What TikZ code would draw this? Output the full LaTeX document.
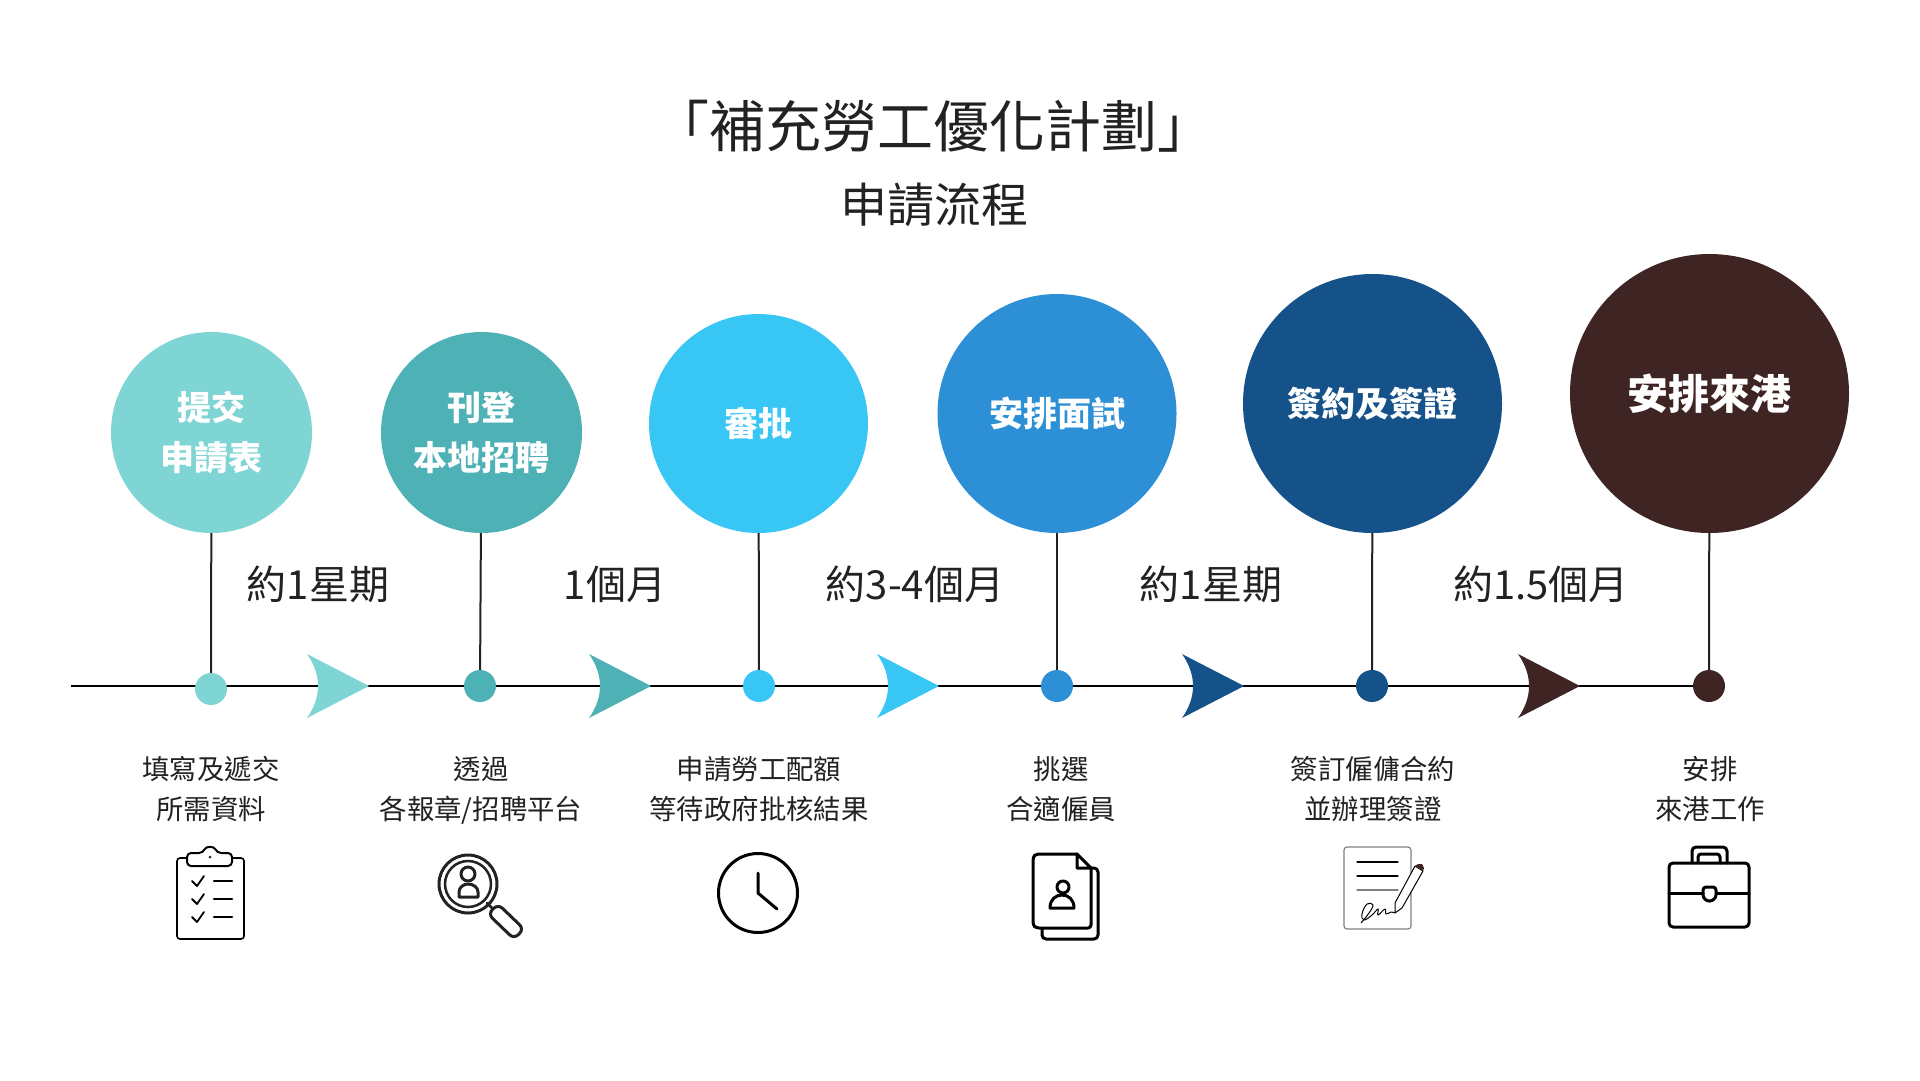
\documentclass[tikz,border=0pt]{standalone}
\usepackage{fontspec}
\setmainfont{Noto Sans CJK TC}
\usepackage{xcolor}

\definecolor{toneA}{HTML}{7FD5D4}
\definecolor{toneB}{HTML}{4DB1B5}
\definecolor{toneC}{HTML}{38C6F4}
\definecolor{toneD}{HTML}{2D8FD5}
\definecolor{toneE}{HTML}{155289}
\definecolor{toneF}{HTML}{3E2524}
\definecolor{inkdark}{HTML}{222222}

\begin{document}
\begin{tikzpicture}[
  x=1pt,y=-1pt,
  stage/.style={circle,inner sep=0pt,text=white,align=center,font=\fontsize{34}{50}\selectfont\bfseries},
  marker/.style={circle,inner sep=0pt,minimum size=32pt},
  stem/.style={line width=2pt,draw=inkdark},
  timing/.style={text=inkdark,font=\fontsize{40}{44}\selectfont},
  detail/.style={text=inkdark,align=center,font=\fontsize{27.4}{40}\selectfont},
  icon/.style={line width=2.5pt,draw=black,line join=round,line cap=round},
  headtip/.pic={\fill[pic actions] (-62,-32) .. controls (-47.3,-11) and (-47.3,11) .. (-62,32) -- (0,0) -- cycle;}
]
  \useasboundingbox (0,0) rectangle (1920,1080);

  % title
  \node[text=inkdark,font=\fontsize{56}{60}\selectfont] (title) at (933,126) {「補充勞工優化計劃」};
  \node[text=inkdark,font=\fontsize{47}{52}\selectfont] (subtitle) at (934,205) {申請流程};

  % timeline
  \coordinate (tstart) at (71,686);
  \coordinate (tend) at (1709,686);
  \draw[line width=2pt,black] (tstart) -- (tend);
  \pic[fill=toneA] at (369,686) {headtip};
  \pic[fill=toneB] at (651,686) {headtip};
  \pic[fill=toneC] at (939,686) {headtip};
  \pic[fill=toneE] at (1244,686) {headtip};
  \pic[fill=toneF] at (1580,686) {headtip};

  % stages
  \node[stage,fill=toneA,minimum size=201pt] (s1) at (211.5,432.5) {提交\\申請表};
  \node[stage,fill=toneB,minimum size=201pt] (s2) at (481.5,432.5) {刊登\\本地招聘};
  \node[stage,fill=toneC,minimum size=219pt] (s3) at (758.5,423.5) {審批};
  \node[stage,fill=toneD,minimum size=239pt] (s4) at (1057,413.5) {安排面試};
  \node[stage,fill=toneE,minimum size=259pt] (s5) at (1372.5,403.5) {簽約及簽證};
  \node[stage,fill=toneF,minimum size=279pt,font=\fontsize{41}{50}\selectfont\bfseries] (s6) at (1709.5,393.5) {安排來港};

  \node[marker,fill=toneA] (m1) at (211,689) {};
  \node[marker,fill=toneB] (m2) at (480,686) {};
  \node[marker,fill=toneC] (m3) at (759,686) {};
  \node[marker,fill=toneD] (m4) at (1057,686) {};
  \node[marker,fill=toneE] (m5) at (1372,686) {};
  \node[marker,fill=toneF] (m6) at (1709,686) {};

  \draw[stem] (s1) -- (m1);
  \draw[stem] (s2) -- (m2);
  \draw[stem] (s3) -- (m3);
  \draw[stem] (s4) -- (m4);
  \draw[stem] (s5) -- (m5);
  \draw[stem] (s6) -- (m6);

  % durations
  \node[timing] (t1) at (318,584) {約1星期};
  \node[timing] (t2) at (615,584) {1個月};
  \node[timing] (t3) at (915,584) {約3-4個月};
  \node[timing] (t4) at (1211,584) {約1星期};
  \node[timing] (t5) at (1541,584) {約1.5個月};

  % details
  \node[detail] (d1) at (211,789) {填寫及遞交\\所需資料};
  \node[detail] (d2) at (481,790) {透過\\各報章/招聘平台};
  \node[detail] (d3) at (759,789) {申請勞工配額\\等待政府批核結果};
  \node[detail] (d4) at (1061,789) {挑選\\合適僱員};
  \node[detail] (d5) at (1373,789) {簽訂僱傭合約\\並辦理簽證};
  \node[detail] (d6) at (1710,789) {安排\\來港工作};

  % clipboard
  \draw[icon,line width=1.6pt,rounded corners=3pt] (177,858) rectangle (244,939);
  \draw[icon,fill=white,line width=2pt,rounded corners=4pt] (187,853) -- (203,853) .. controls (206,846) and (214,846) .. (217,853) -- (232,853) -- (232,866) -- (187,866) -- cycle;
  \fill[inkdark] (210,857) circle (1.5);
  \draw[icon,line width=1.8pt] (192,881) -- (197,886) -- (204,876);
  \draw[icon,line width=1.8pt] (192,899) -- (197,904) -- (204,894);
  \draw[icon,line width=1.8pt] (192,917) -- (197,922) -- (204,912);
  \draw[icon,line width=2.5pt] (214,881) -- (232,881);
  \draw[icon,line width=2.5pt] (214,899) -- (232,899);
  \draw[icon,line width=2.5pt] (214,917) -- (232,917);

  % magnifier
  \draw[icon,draw=inkdark,line width=3pt] (468,884) circle (29);
  \draw[icon,draw=inkdark,line width=2.5pt] (468,884) circle (23);
  \draw[icon,draw=inkdark,line width=3pt] (468,874) circle (7);
  \draw[icon,draw=inkdark,line width=3pt] (459,897) -- (459,892) .. controls (459,887) and (464,884) .. (468,884) .. controls (473,884) and (478,887) .. (478,892) -- (478,897) -- cycle;
  \draw[icon,draw=inkdark] (487,903) -- (492,908);
  \draw[icon,draw=inkdark,line width=3pt,rounded corners=6pt] (498,904) -- (524,929) -- (514,939) -- (488,914) -- cycle;

  % clock
  \draw[icon,line width=3pt] (758,893) circle (39.5);
  \draw[icon,line width=3pt] (758,873) -- (758,893) -- (777,909);

  % documents
  \draw[icon,line width=3pt,rounded corners=4pt] (1091,868) -- (1098,868) -- (1098,939) -- (1042,939) -- (1042,928);
  \draw[icon,line width=3pt,fill=white,rounded corners=3pt] (1077,854) -- (1036,854) -- (1033,857) -- (1033,925) -- (1036,928) -- (1091,928) -- (1091,868);
  \draw[icon,line width=3pt] (1077,854) -- (1091,868) -- (1077,868) -- cycle;
  \draw[icon,line width=3pt] (1063,887) circle (6);
  \draw[icon,line width=3pt] (1050,908) .. controls (1050,899) and (1056,895) .. (1062,895) .. controls (1068,895) and (1074,899) .. (1074,908) -- cycle;

  % contract
  \draw[icon,line width=1.2pt,draw=gray,rounded corners=3pt] (1344,847) rectangle (1411,929);
  \draw[icon,line width=1.2pt] (1357,862) -- (1398,862);
  \draw[icon,line width=1.2pt] (1357,876) -- (1398,876);
  \draw[icon,line width=1.2pt,draw=gray] (1357,890) -- (1398,890);
  \draw[icon,line width=1pt,fill=white] (1395,913) -- (1395,903) -- (1415,866) -- (1423,871) -- (1402,908) -- cycle;
  \fill[toneF] (1415,866) -- (1418,864) -- (1422,864) -- (1424,868) -- (1423,871) -- cycle;
  \draw[line width=1pt,line join=round] plot[smooth,tension=0.7] coordinates {(1361,923) (1369,913) (1373,905) (1367,904) (1362,914) (1364,920) (1372,915) (1378,909) (1378,915) (1385,909) (1386,914) (1391,912) (1395,913)};

  % briefcase
  \draw[icon,line width=3pt,rounded corners=4pt] (1669,863) rectangle (1749,927);
  \draw[icon,line width=3pt] (1669,893) -- (1703,893);
  \draw[icon,line width=3pt] (1716,893) -- (1749,893);
  \draw[icon,line width=3pt,rounded corners=4pt] (1692,863) -- (1692,847) -- (1727,847) -- (1727,863);
  \draw[icon,line width=3pt,rounded corners=3pt] (1698,863) -- (1698,854) -- (1720,854) -- (1720,863);
  \draw[icon,line width=3pt,rounded corners=3pt] (1703,887) -- (1716,887) -- (1716,898) -- (1709.5,902) -- (1703,898) -- cycle;
\end{tikzpicture}
\end{document}
